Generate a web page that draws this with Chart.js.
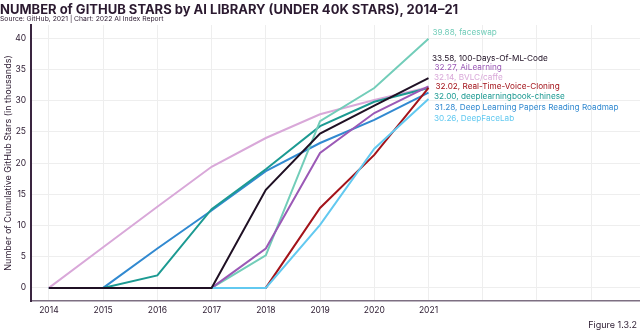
<!DOCTYPE html>
<html>
<head>
<meta charset="utf-8">
<script src="https://cdn.jsdelivr.net/npm/chart.js@4"></script>
<style>
  html, body { margin: 0; padding: 0; background: #fff; }
  #wrap { position: relative; width: 640px; height: 331px; font-family: Inter, sans-serif; color: #2b1a30; }
  #titulo { position: absolute; left: 0; top: 0.5px; font-size: 13px; font-weight: 700; white-space: nowrap; }
  #fuente { position: absolute; left: 0; top: 14px; font-size: 6.8px; white-space: nowrap; }
  #figura { position: absolute; right: 3px; top: 319px; font-size: 9px; white-space: nowrap; }
  canvas { position: absolute; left: 0; top: 0; }
</style>
</head>
<body>
<div id="wrap">
  <canvas id="myChart" width="640" height="331"></canvas>
  <div id="titulo">NUMBER of GITHUB STARS by AI LIBRARY (UNDER 40K STARS), 2014–21</div>
  <div id="fuente">Source: GitHub, 2021 | Chart: 2022 AI Index Report</div>
  <div id="figura">Figure 1.3.2</div>
</div>
<script>
// Datos (miles de estrellas)
const anios = [2014, 2015, 2016, 2017, 2018, 2019, 2020, 2021];
const ticksY = [0, 5, 10, 15, 20, 25, 30, 35, 40];

const faceswap = [0, 0, 0, 0, 5.2, 26.7, 32.0, 39.88];
const cienDias = [0, 0, 0, 0, 15.7, 24.7, 29.2, 33.58];
const aiLearning = [0, 0, 0, 0, 6.3, 21.6, 28.0, 32.27];
const caffe = [0, 6.5, 13.0, 19.4, 24.0, 27.8, 30.1, 32.14];
const voiceCloning = [0, 0, 0, 0, 0, 12.8, 21.3, 32.02];
const dlbChinese = [0, 0, 2.0, 12.6, 19.0, 25.9, 29.8, 32.0];
const dlPapers = [0, 0, 6.3, 12.4, 18.7, 23.2, 26.9, 31.28];
const deepFaceLab = [0, 0, 0, 0, 0, 10.1, 22.3, 30.26];

const nombres = ['faceswap', '100-Days-Of-ML-Code', 'AiLearning', 'BVLC/caffe',
  'Real-Time-Voice-Cloning', 'deeplearningbook-chinese',
  'Deep Learning Papers Reading Roadmap', 'DeepFaceLab'];
const colores = ['#72cdb9', '#1f1024', '#9b59b6', '#d9a8d9',
  '#a3131a', '#1c9a92', '#3189d0', '#62c9f0'];
const valores = [faceswap, cienDias, aiLearning, caffe, voiceCloning, dlbChinese, dlPapers, deepFaceLab];

// posicion vertical de las etiquetas (px) y desplazamiento x
const etiquetaY = [32.7, 58.3, 67.7, 77.3, 86.7, 96.7, 107.3, 118.3];
const etiquetaDx = [4, 3.5, 6, 5.5, 7, 5.5, 6, 5.5];

// Chart.js pinta el primer dataset encima: el negro va primero
const orden = [1, 7, 4, 2, 0, 5, 6, 3];

const datasets = orden.map((i) => ({
  label: nombres[i],
  data: anios.map((a, k) => ({ x: a, y: valores[i][k] })),
  borderColor: colores[i],
  backgroundColor: colores[i],
  borderWidth: 2,
  pointRadius: 0,
  tension: 0,
  fill: false,
}));

const etiquetas = {
  id: 'etiquetas',
  afterDatasetsDraw(chart) {
    const ctx = chart.ctx;
    const x = chart.scales.x.getPixelForValue(anios[anios.length - 1]);
    ctx.save();
    ctx.font = '8.2px Inter, sans-serif';
    ctx.textBaseline = 'middle';
    nombres.forEach((n, i) => {
      const v = valores[i][valores[i].length - 1];
      ctx.fillStyle = colores[i];
      ctx.fillText(v.toFixed(2) + ', ' + n, x + etiquetaDx[i], etiquetaY[i]);
    });
    ctx.restore();
  },
};

const config = {
  type: 'line',
  data: { datasets: datasets },
  options: {
    responsive: false,
    animation: false,
    layout: { padding: { top: 25, right: 0, left: 0, bottom: 0 } },
    plugins: { legend: { display: false }, tooltip: { enabled: false } },
    scales: {
      x: {
        type: 'linear',
        min: 2013.67,
        max: 2024.9,
        afterBuildTicks: (s) => {
          s.ticks = [];
          for (let a = 2014; a <= 2024; a++) s.ticks.push({ value: a });
        },
        afterFit: (s) => { s.height = 30; },
        ticks: {
          callback: (v) => (v <= 2021 ? String(v) : ''),
          color: '#2b1a30',
          font: { family: 'Inter', size: 8.5 },
          padding: 4,
          maxRotation: 0,
        },
        grid: { color: '#eeeeee', lineWidth: 1, drawTicks: false },
        border: { color: '#7d6f82', width: 1.5 },
      },
      y: {
        min: -2.1,
        max: 42.1,
        afterBuildTicks: (s) => { s.ticks = ticksY.map((v) => ({ value: v })); },
        afterFit: (s) => { s.width = 31; },
        ticks: {
          color: '#2b1a30',
          font: { family: 'Inter', size: 8.5 },
          padding: 5,
        },
        grid: { color: '#eeeeee', lineWidth: 1, drawTicks: false },
        border: { color: '#3a2540', width: 2 },
        title: {
          display: true,
          text: 'Number of Cumulative GitHub Stars (in thousands)',
          color: '#2b1a30',
          font: { family: 'Inter', size: 9 },
          padding: { top: 3, bottom: 0 },
        },
      },
    },
  },
  plugins: [etiquetas],
};

let myChart = new Chart(document.querySelector('#myChart'), config);
</script>
</body>
</html>
